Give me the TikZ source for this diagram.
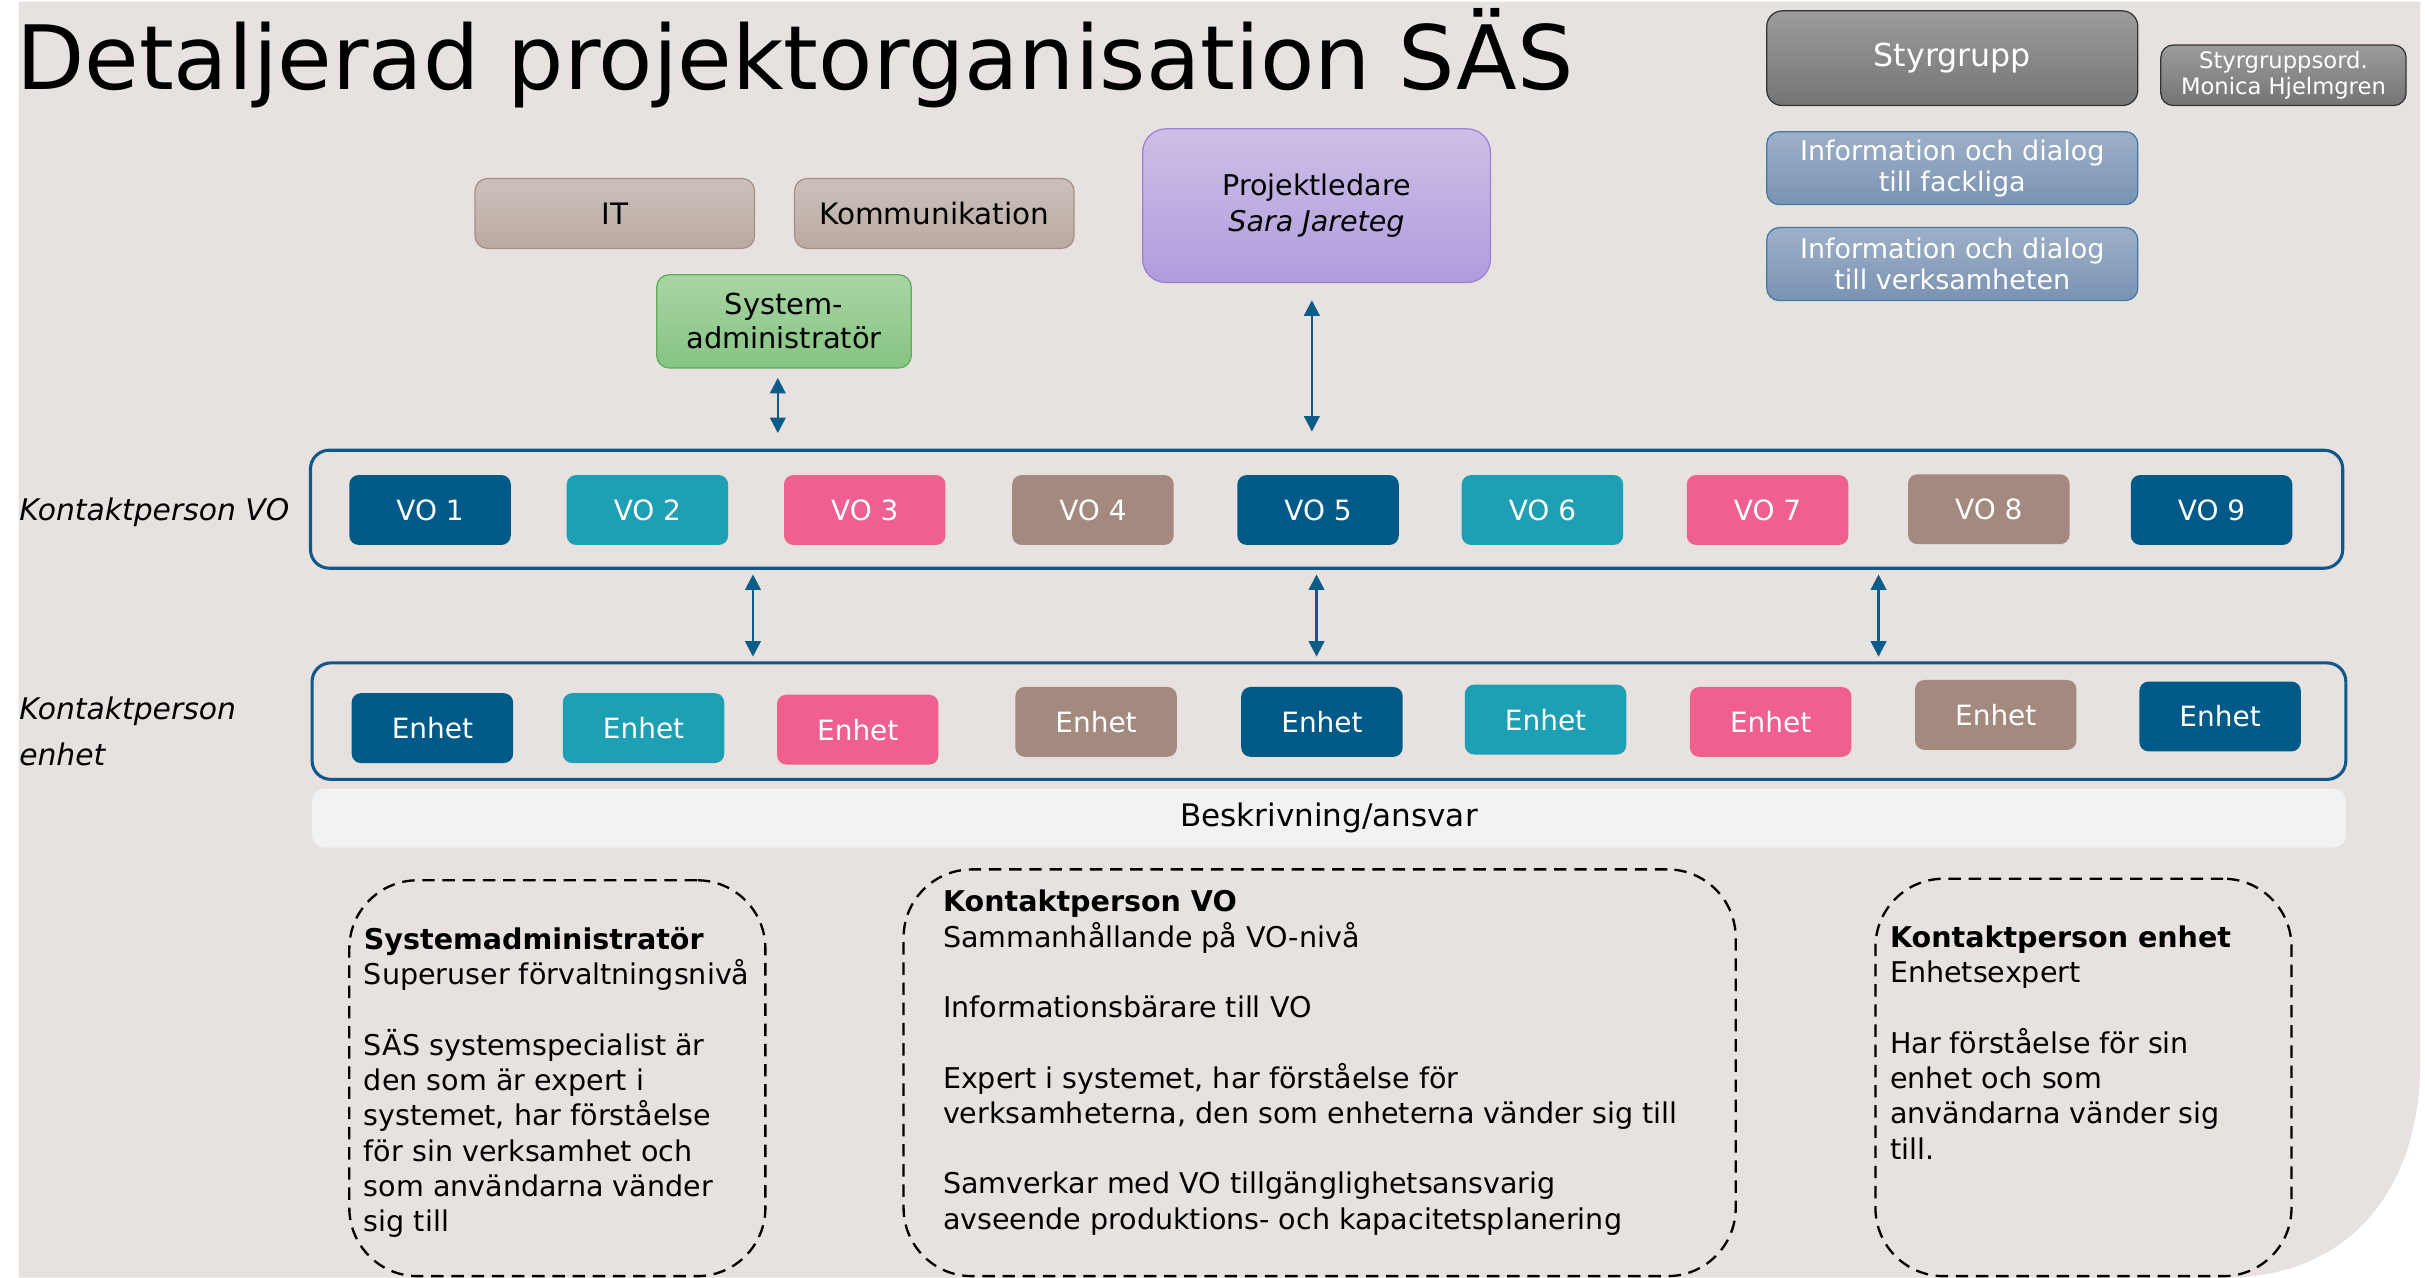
\documentclass[tikz,border=0pt]{standalone}
\usepackage{fontspec}
\setmainfont{DejaVu Sans}
\usepackage{tikz}
\usetikzlibrary{positioning,arrows.meta}

\definecolor{bgbeige}{HTML}{E7E2DF}
\definecolor{vodark}{HTML}{005A87}
\definecolor{voteal}{HTML}{1DA0B4}
\definecolor{vopink}{HTML}{EF608E}
\definecolor{votaupe}{HTML}{A3897E}
\definecolor{rowblue}{HTML}{10588A}
\definecolor{arrowblue}{HTML}{0C5C8A}
\definecolor{styrtop}{HTML}{9C9C9C}
\definecolor{styrbot}{HTML}{747474}
\definecolor{infotop}{HTML}{9DB0C8}
\definecolor{infobot}{HTML}{7A93B3}
\definecolor{infoborder}{HTML}{3F7AA6}
\definecolor{ittop}{HTML}{CBC1BC}
\definecolor{itbot}{HTML}{BBA9A1}
\definecolor{itborder}{HTML}{A48F87}
\definecolor{systop}{HTML}{A9D5A5}
\definecolor{sysbot}{HTML}{86C482}
\definecolor{sysborder}{HTML}{5DAE58}
\definecolor{pltop}{HTML}{CDBFE6}
\definecolor{plbot}{HTML}{B09CDE}
\definecolor{plborder}{HTML}{9B80D8}
\definecolor{descgray}{HTML}{F2F2F2}

\begin{document}
\begin{tikzpicture}[x=0.5pt,y=-0.5pt
		,every node/.append style={inner sep=0pt}
		,vo/.style={rounded corners=3pt, minimum width=52pt, minimum height=22.5pt, text=white, font=\fontsize{9}{11}\selectfont}
		,vd/.style={vo, fill=vodark}
		,vt/.style={vo, fill=voteal}
		,vp/.style={vo, fill=vopink}
		,vb/.style={vo, fill=votaupe}
		,row/.style={draw=rowblue, line width=1pt, rounded corners=6pt, minimum width=654.5pt, minimum height=38pt}
		,arr/.style={<->, >={Triangle[length=5pt,width=5pt]}, draw=arrowblue, line width=0.75pt}
		,desc/.style={draw, line width=0.75pt, dash pattern=on 4pt off 2.5pt, rounded corners=22pt, minimum width=134pt}
		,dtext/.style={anchor=north west, align=left, font=\fontsize{9.2}{11.35}\selectfont}
		,stab/.style={draw=itborder, top color=ittop, bottom color=itbot, rounded corners=4pt, minimum width=90pt, minimum height=22.5pt, font=\fontsize{9.5}{11.5}\selectfont}
		,info/.style={draw=infoborder, top color=infotop, bottom color=infobot, rounded corners=4pt, minimum width=119.5pt, minimum height=23.5pt, text=white, align=center, font=\fontsize{8.7}{10}\selectfont}
	]
	\useasboundingbox (0,0) rectangle (1562,823);
	\fill[bgbeige] (12,1) -- (1559,1) -- (1559,683) .. controls (1559,770) and (1510,823) .. (1433,823) -- (12,823) -- cycle;

	\node[anchor=base west, font=\fontsize{28.6}{30}\selectfont] (title) at (10,57.5) {Detaljerad projektorganisation SÄS};

	% styrgrupp
	\node[draw=black!80, top color=styrtop, bottom color=styrbot, rounded corners=5pt, minimum width=119.5pt, minimum height=30.5pt, text=white, font=\fontsize{10.2}{12}\selectfont] (styr) at (1257.5,37.5) {Styrgrupp};
	\node[draw=black!80, top color=styrtop, bottom color=styrbot, rounded corners=4pt, minimum width=79pt, minimum height=19.5pt, text=white, align=center, font=\fontsize{7.3}{8.2}\selectfont, right=7pt of styr.south east, anchor=south west] (ord) {Styrgruppsord.\\Monica Hjelmgren};
	\node[info, below=8pt of styr] (fack) {Information och dialog\\till fackliga};
	\node[info, below=7pt of fack] (verk) {Information och dialog\\till verksamheten};

	% stod
	\node[stab] (it) at (396,137.5) {IT};
	\node[stab, right=12.5pt of it] (komm) {Kommunikation};
	\node[draw=sysborder, top color=systop, bottom color=sysbot, rounded corners=4pt, minimum width=82pt, minimum height=30pt, align=center, font=\fontsize{9.3}{11}\selectfont] (sys) at (505,207) {System-\\administratör};
	\node[draw=plborder, top color=pltop, bottom color=plbot, rounded corners=7.5pt, minimum width=112pt, minimum height=49.5pt, align=center, font=\fontsize{9.2}{11.5}\selectfont] (pl) at (848,132.5) {Projektledare\\\itshape Sara Jareteg};

	% kontaktpersoner VO
	\node[anchor=west, font=\itshape\fontsize{9.6}{11}\selectfont] (lvo) at (12,330) {Kontaktperson VO};
	\node[row] (vorow) at (854.5,328) {};
	\node[vd] (vo1) at (277,328.5) {VO 1};
	\node[vt] (vo2) at (417,328.5) {VO 2};
	\node[vp] (vo3) at (557,328.5) {VO 3};
	\node[vb] (vo4) at (704,328.5) {VO 4};
	\node[vd] (vo5) at (849,328.5) {VO 5};
	\node[vt] (vo6) at (993.5,328.5) {VO 6};
	\node[vp] (vo7) at (1138.5,328.5) {VO 7};
	\node[vb] (vo8) at (1281,328) {VO 8};
	\node[vd] (vo9) at (1424.5,328.5) {VO 9};

	% kontaktpersoner enhet
	\node[anchor=west, align=left, font=\itshape\fontsize{9.6}{15}\selectfont] (lenh) at (12,471) {Kontaktperson\\enhet};
	\node[row, minimum width=655pt, minimum height=37.5pt] (enhrow) at (856,464.5) {};
	\node[vd] (e1) at (278.5,469) {Enhet};
	\node[vt] (e2) at (414.5,469) {Enhet};
	\node[vp] (e3) at (552.5,470) {Enhet};
	\node[vb] (e4) at (706,465) {Enhet};
	\node[vd] (e5) at (851.5,465) {Enhet};
	\node[vt] (e6) at (995.5,463.5) {Enhet};
	\node[vp] (e7) at (1140.5,465) {Enhet};
	\node[vb] (e8) at (1285.5,460.5) {Enhet};
	\node[vd] (e9) at (1430,461.5) {Enhet};

	\coordinate (p1) at (485,0);
	\coordinate (p2) at (848,0);
	\coordinate (p3) at (1210,0);
	\draw[arr, shorten <=3pt, shorten >=5pt] ([xshift=-2pt]sys.south) -- ([xshift=-2pt]sys.south |- vorow.north);
	\draw[arr, shorten <=5.5pt, shorten >=5.5pt] ([xshift=-1.5pt]pl.south) -- ([xshift=-1.5pt]pl.south |- vorow.north);
	\draw[arr, shorten <=1.5pt, shorten >=1.5pt] (vorow.south -| p1) -- (enhrow.north -| p1);
	\draw[arr, shorten <=1.5pt, shorten >=1.5pt] (vorow.south -| p2) -- (enhrow.north -| p2);
	\draw[arr, shorten <=1.5pt, shorten >=1.5pt] (vorow.south -| p3) -- (enhrow.north -| p3);

	% beskrivning
	\node[fill=descgray, rounded corners=4pt, minimum width=655pt, minimum height=19pt, font=\fontsize{10}{12}\selectfont] (besk) at (856,527) {Beskrivning/ansvar};

	\node[desc, minimum height=127.5pt] (dsys) at (359,694.5) {};
	\node[desc, minimum width=268pt, minimum height=131pt] (dvo) at (850,691) {};
	\node[desc, minimum height=128pt] (denh) at (1342,694) {};

	\node[dtext] (tsys) at (234,597) {\textbf{Systemadministratör}\\Superuser förvaltningsnivå\\[11.35pt]SÄS systemspecialist är\\den som är expert i\\systemet, har förståelse\\för sin verksamhet och\\som användarna vänder\\sig till};
	\node[dtext] (tvo) at (607,573) {\textbf{Kontaktperson VO}\\Sammanhållande på VO-nivå\\[11.35pt]Informationsbärare till VO\\[11.35pt]Expert i systemet, har förståelse för\\verksamheterna, den som enheterna vänder sig till\\[11.35pt]Samverkar med VO tillgänglighetsansvarig\\avseende produktions- och kapacitetsplanering};
	\node[dtext] (tenh) at (1217,596) {\textbf{Kontaktperson enhet}\\Enhetsexpert\\[11.35pt]Har förståelse för sin\\enhet och som\\användarna vänder sig\\till.};
\end{tikzpicture}
\end{document}
